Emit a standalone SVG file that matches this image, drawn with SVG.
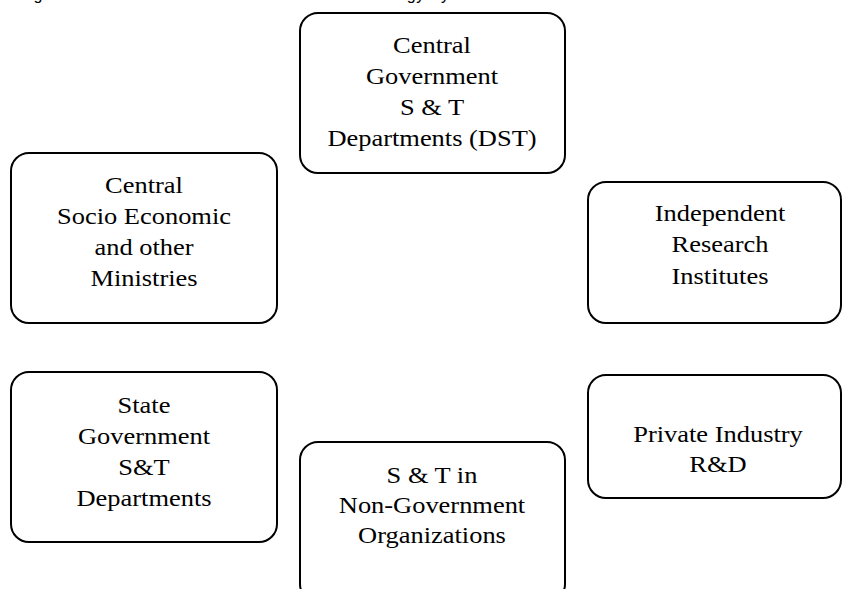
<svg xmlns="http://www.w3.org/2000/svg" width="842" height="589" viewBox="0 0 842 589">
<style>
.box{fill:#fff;stroke:#000;stroke-width:2}
.lbl{font-family:"Liberation Serif","Times New Roman",serif;font-size:23px;fill:#000;text-anchor:middle}
.cap{font-family:"Liberation Sans",Arial,sans-serif;font-size:16px;fill:#000}
</style>
<rect width="842" height="589" fill="#fff"/>
<text class="cap" x="19" y="0" textLength="467" lengthAdjust="spacing">Figure 1: Structure of Indian Science and Technology System</text>
<g id="connectors"></g>
<g id="central-gov">
<rect class="box" x="300" y="13" width="265" height="160" rx="18"/>
<text class="lbl" transform="translate(432,0) scale(1.15,1)"><tspan x="0" y="53">Central</tspan><tspan x="0" y="84">Government</tspan><tspan x="0" y="115">S &amp; T</tspan><tspan x="0" y="146">Departments (DST)</tspan></text>
</g>
<g id="socio-economic">
<rect class="box" x="11" y="153" width="266" height="170" rx="18"/>
<text class="lbl" transform="translate(144,0) scale(1.15,1)"><tspan x="0" y="193">Central</tspan><tspan x="0" y="224">Socio Economic</tspan><tspan x="0" y="255">and other</tspan><tspan x="0" y="286">Ministries</tspan></text>
</g>
<g id="independent">
<rect class="box" x="588" y="182" width="253" height="141" rx="18"/>
<text class="lbl" transform="translate(720,0) scale(1.15,1)"><tspan x="0" y="221">Independent</tspan><tspan x="0" y="252">Research</tspan><tspan x="0" y="284">Institutes</tspan></text>
</g>
<g id="state-gov">
<rect class="box" x="11" y="372" width="266" height="170" rx="18"/>
<text class="lbl" transform="translate(144,0) scale(1.15,1)"><tspan x="0" y="413">State</tspan><tspan x="0" y="444">Government</tspan><tspan x="0" y="475">S&amp;T</tspan><tspan x="0" y="506">Departments</tspan></text>
</g>
<g id="ngo">
<rect class="box" x="300" y="442" width="265" height="160" rx="18"/>
<text class="lbl" transform="translate(432,0) scale(1.15,1)"><tspan x="0" y="483">S &amp; T in</tspan><tspan x="0" y="513">Non-Government</tspan><tspan x="0" y="543">Organizations</tspan></text>
</g>
<g id="private">
<rect class="box" x="588" y="375" width="253" height="123" rx="18"/>
<text class="lbl" transform="translate(718,0) scale(1.15,1)"><tspan x="0" y="442">Private Industry</tspan><tspan x="0" y="472">R&amp;D</tspan></text>
</g>
</svg>
